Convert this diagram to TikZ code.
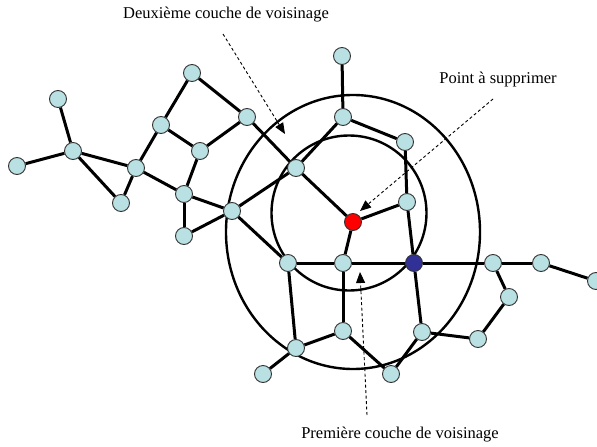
\documentclass[tikz,border=0pt]{standalone}
\usepackage{fontspec}
\setmainfont{Liberation Serif}
\usetikzlibrary{arrows.meta}
\definecolor{nodecol}{RGB}{185,224,226}
\definecolor{bluecol}{RGB}{48,48,150}
\begin{document}
\begin{tikzpicture}[x=1pt,y=-1pt,
  vtx/.style={circle,minimum size=17pt,inner sep=0pt,fill=nodecol,draw=black!80,line width=0.9pt},
  redvtx/.style={vtx,fill=red},
  bluevtx/.style={vtx,fill=bluecol},
  edge/.style={line width=3pt},
  ring/.style={line width=2.4pt},
  callout/.style={dash pattern=on 3pt off 2.5pt,line width=0.9pt,-{Triangle[length=11pt,width=9pt]}},
  lbl/.style={inner sep=0pt,font=\fontsize{16.5}{20}\selectfont}]
\useasboundingbox (0,0) rectangle (597,447);
\begin{scope}
\clip (0,0) rectangle (597,447);
% neighbourhood rings
\draw[ring] (353,232) ellipse [x radius=127,y radius=137];
\draw[ring] (349,213) circle [radius=77.5];
% vertices
\node[vtx] (A) at (58,99) {};
\node[vtx] (B) at (73,151) {};
\node[vtx] (C) at (17,166) {};
\node[vtx] (D) at (121,203) {};
\node[vtx] (E) at (136,168) {};
\node[vtx] (F) at (161,125) {};
\node[vtx] (G) at (192,73) {};
\node[vtx] (H) at (247,117) {};
\node[vtx] (I) at (200,151) {};
\node[vtx] (J) at (184,194) {};
\node[vtx] (K) at (184,236) {};
\node[vtx] (L) at (232,211) {};
\node[vtx] (M) at (342,56) {};
\node[vtx] (N) at (343,117) {};
\node[vtx] (O) at (405,142) {};
\node[vtx] (P) at (296,168) {};
\node[vtx] (Q) at (407,202) {};
\node[redvtx] (R) at (353,222) {};
\node[vtx] (S) at (288,263) {};
\node[vtx] (T) at (343,263) {};
\node[bluevtx] (U) at (414,263) {};
\node[vtx] (V) at (493,263) {};
\node[vtx] (W) at (541,263) {};
\node[vtx] (X) at (596,281) {};
\node[vtx] (Y) at (509,297) {};
\node[vtx] (Z) at (478,339) {};
\node[vtx] (AA) at (422,332) {};
\node[vtx] (AB) at (343,331) {};
\node[vtx] (AC) at (296,348) {};
\node[vtx] (AD) at (263,374) {};
\node[vtx] (AE) at (391,374) {};
% edges
\foreach \a/\b in {A/B,C/B,B/E,B/D,D/E,E/F,F/G,G/H,F/I,H/I,E/J,I/J,J/K,J/L,K/L,
  H/P,L/P,L/S,P/N,M/N,N/O,O/Q,Q/R,P/R,R/T,S/T,T/U,U/V,V/W,W/X,Q/U,
  S/AC,T/AB,AB/AC,AB/AE,AC/AD,AE/AA,U/AA,AA/Z,Z/Y,Y/V}
  \draw[edge] (\a) -- (\b);
\end{scope}
% labels
\node[lbl] (l2) at (226,15) {Deuxième couche de voisinage};
\node[lbl] (lp) at (498,80) {Point à supprimer};
\node[lbl] (l1) at (400,435) {Première couche de voisinage};
% callouts
\coordinate (c2s) at (223,34);
\coordinate (c2e) at (285,134);
\coordinate (cps) at (493,99);
\coordinate (cpe) at (360,211);
\coordinate (c1s) at (367,415);
\coordinate (c1e) at (360,272);
\draw[callout] (c2s) -- (c2e);
\draw[callout] (cps) -- (cpe);
\draw[callout] (c1s) -- (c1e);
\end{tikzpicture}
\end{document}
